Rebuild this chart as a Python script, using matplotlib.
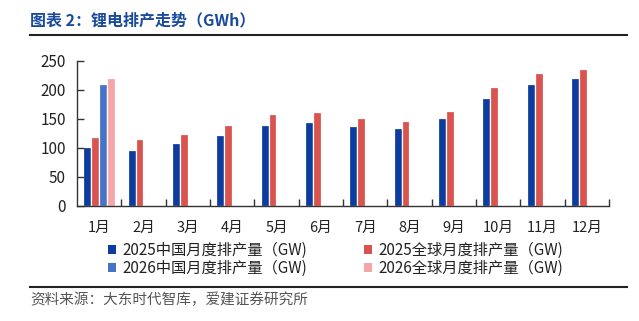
import matplotlib
matplotlib.use("Agg")
import matplotlib.pyplot as plt
from matplotlib.lines import Line2D
from matplotlib.patches import Patch
import numpy as np

plt.rcParams['font.family'] = ['Noto Sans CJK SC', 'DejaVu Sans']

months = ['1月', '2月', '3月', '4月', '5月', '6月', '7月', '8月', '9月', '10月', '11月', '12月']
china_2025 = [102, 96, 108, 122, 140, 144, 138, 134, 152, 186, 210, 220]
global_2025 = [119, 115, 124, 139, 159, 161, 151, 146, 163, 205, 229, 236]
china_2026 = [210]
global_2026 = [220]
labels = ['2025中国月度排产量（GW)', '2026中国月度排产量（GW)',
          '2025全球月度排产量（GW)', '2026全球月度排产量（GW)']
yticks = [0, 50, 100, 150, 200, 250]

c_c25 = '#0B3C9E'
c_g25 = '#D9534F'
c_c26 = '#4773C8'
c_g26 = '#F5A6A8'

W, H = 639, 321
fig = plt.figure(figsize=(W / 100, H / 100), dpi=100)

ax = fig.add_axes([77 / W, 1 - 206 / H, (609 - 77) / W, (206 - 60.7) / H])
x = np.arange(len(months))
bw = 0.18
kw = dict(width=bw, edgecolor='white', linewidth=0.9)
ax.bar(x - 1.5 * bw, china_2025, color=c_c25, **kw)
ax.bar(x - 0.5 * bw, global_2025, color=c_g25, **kw)
x26 = np.arange(len(china_2026))
ax.bar(x26 + 0.5 * bw, china_2026, color=c_c26, **kw)
ax.bar(x26 + 1.5 * bw, global_2026, color=c_g26, **kw)

ax.set_xlim(-0.5, len(months) - 0.5)
ax.set_ylim(0, 250)
ax.set_yticks(yticks)
ax.set_xticks(x)
ax.set_xticklabels(months)
ax.set_xticks(np.arange(len(months)) + 0.5, minor=True)
ax.tick_params(axis='x', which='major', length=0, pad=11, labelsize=10.5, labelcolor='#222222')
ax.tick_params(axis='x', which='minor', direction='in', length=5, width=1, color='#333333')
ax.tick_params(axis='y', direction='in', length=5, width=1, color='#333333', pad=8,
               labelsize=11, labelcolor='#222222')
for s in ['top', 'right']:
    ax.spines[s].set_visible(False)
for s in ['left', 'bottom']:
    ax.spines[s].set_color('#333333')
    ax.spines[s].set_linewidth(1.0)

handles = [Patch(facecolor=c, edgecolor='none') for c in [c_c25, c_c26, c_g25, c_g26]]
fig.legend(handles, labels, ncol=2, loc='upper left',
           bbox_to_anchor=(108 / W, 1 - 242 / H), frameon=False,
           fontsize=11, handlelength=0.55, handleheight=0.55, handletextpad=0.4,
           columnspacing=3.7, labelspacing=0.05, borderpad=0, borderaxespad=0,
           labelcolor='#222222')

fig.text(30 / W, 1 - 20 / H, '图表 2：锂电排产走势（GWh）', fontsize=11.5, fontweight='bold',
         color='#1A4A9C', va='center', ha='left')
fig.add_artist(Line2D([30 / W, 627 / W], [1 - 35 / H, 1 - 35 / H], color='#222222', lw=1.5))
fig.add_artist(Line2D([30 / W, 627 / W], [1 - 287 / H, 1 - 287 / H], color='#222222', lw=1.5))
fig.text(30 / W, 1 - 300 / H, '资料来源：大东时代智库，爱建证券研究所', fontsize=10.5,
         color='#555555', va='center', ha='left')

fig.savefig('out.png', dpi=100, facecolor='white')
